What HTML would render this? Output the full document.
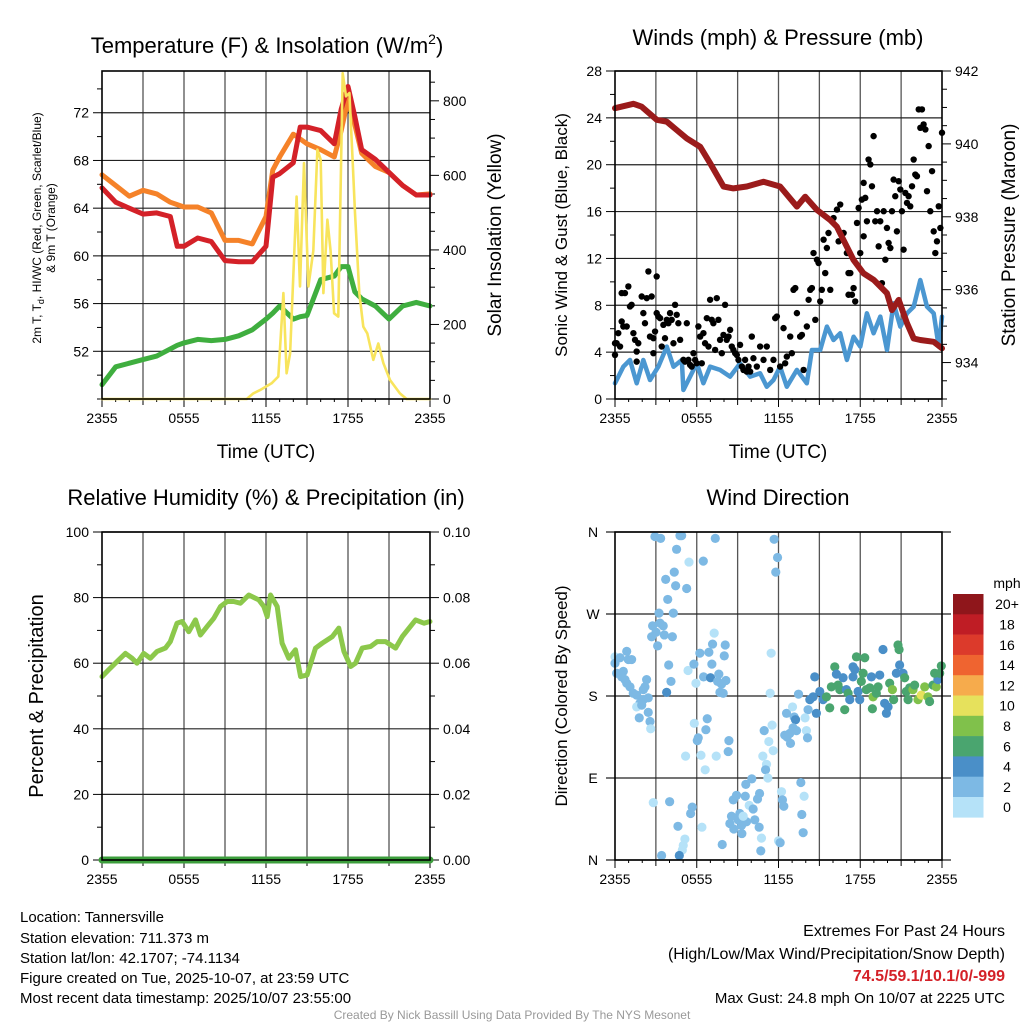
<!DOCTYPE html>
<html><head><meta charset="utf-8">
<style>
html,body{margin:0;padding:0;background:#fff;}
svg{display:block;font-family:"Liberation Sans",Arial,sans-serif;}
</style></head>
<body>
<svg id="fig" width="1024" height="1024" viewBox="0 0 1024 1024" xmlns="http://www.w3.org/2000/svg">
<rect width="1024" height="1024" fill="#fff"/>
<text x="267" y="53" font-size="22" text-anchor="middle">Temperature (F) &amp; Insolation (W/m<tspan dy="-9" font-size="14">2</tspan><tspan dy="9">)</tspan></text>
<text x="778" y="45" font-size="22" text-anchor="middle">Winds (mph) &amp; Pressure (mb)</text>
<text x="266" y="505" font-size="22" text-anchor="middle">Relative Humidity (%) &amp; Precipitation (in)</text>
<text x="778" y="505" font-size="22" text-anchor="middle">Wind Direction</text>

<text transform="translate(41,228) rotate(-90)" font-size="12" text-anchor="middle">2m T, T<tspan dy="3" font-size="9">d</tspan><tspan dy="-3">, HI/WC (Red, Green, Scarlet/Blue)</tspan></text>
<text transform="translate(55,228) rotate(-90)" font-size="12" text-anchor="middle">&amp; 9m T (Orange)</text>
<text transform="translate(501,235) rotate(-90)" font-size="19" text-anchor="middle">Solar Insolation (Yellow)</text>
<text x="266" y="458" font-size="19" text-anchor="middle">Time (UTC)</text>
<text transform="translate(567,235) rotate(-90)" font-size="17" text-anchor="middle">Sonic Wind &amp; Gust (Blue, Black)</text>
<text transform="translate(1015,235) rotate(-90)" font-size="19" text-anchor="middle">Station Pressure (Maroon)</text>
<text x="778" y="458" font-size="19" text-anchor="middle">Time (UTC)</text>
<text transform="translate(43,696) rotate(-90)" font-size="20" text-anchor="middle">Percent &amp; Precipitation</text>
<text transform="translate(567,696) rotate(-90)" font-size="17" text-anchor="middle">Direction (Colored By Speed)</text>

<g font-size="15">
<text x="20" y="922">Location: Tannersville</text>
<text x="20" y="943">Station elevation: 711.373 m</text>
<text x="20" y="963">Station lat/lon: 42.1707; -74.1134</text>
<text x="20" y="983">Figure created on Tue, 2025-10-07, at 23:59 UTC</text>
<text x="20" y="1003">Most recent data timestamp: 2025/10/07 23:55:00</text>
</g>
<g font-size="16" text-anchor="end">
<text x="1005" y="936">Extremes For Past 24 Hours</text>
<text x="1005" y="959">(High/Low/Max Wind/Precipitation/Snow Depth)</text>
<text x="1005" y="981" fill="#d42128" font-weight="bold">74.5/59.1/10.1/0/-999</text>
<text x="1005" y="1003" font-size="15">Max Gust: 24.8 mph On 10/07 at 2225 UTC</text>
</g>
<text x="512" y="1019" font-size="12" fill="#999" text-anchor="middle">Created By Nick Bassill Using Data Provided By The NYS Mesonet</text>
</svg>
<script>
// ---------- data ----------
const timeTicks = ["2355","0555","1155","1755","2355"];
const tempHours = [0,1,2,3,4,5,5.5,6,7,8,9,10,11,12,12.5,13,14,14.5,15,16,17,17.5,18,18.5,19,20,21,22,23,24];
const tempRed   = [65.7,64.5,64.0,63.5,63.6,63.3,60.8,60.8,61.5,61.2,59.6,59.5,59.5,60.8,66.6,66.9,67.8,70.8,70.8,70.5,69.4,72.3,74.2,71.7,68.9,68.1,67.0,65.9,65.1,65.1];
const tempOrange= [66.8,65.9,65.0,65.5,65.2,64.5,64.3,64.1,64.1,63.6,61.3,61.3,61.0,63.3,67.2,68.3,70.2,69.8,69.4,68.9,68.3,70.5,73.1,71.0,68.6,67.5,67.0,65.9,65.1,65.2];
const tempGreen = [49.2,50.7,51.0,51.3,51.6,52.2,52.5,52.7,53.0,52.9,53.0,53.3,53.8,54.7,55.2,55.8,54.7,54.9,55.0,58.0,58.3,59.1,59.1,57.0,56.4,55.8,54.7,55.8,56.1,55.8];
const solarHours = [0,10.59,11.07,11.56,12.41,12.9,13.27,13.51,13.76,14.24,14.49,14.78,15.1,15.46,15.76,16.0,16.2,16.49,16.73,16.98,17.29,17.61,17.85,18.1,18.34,18.51,18.83,19.12,19.41,19.85,20.22,20.59,21.07,21.8,22.29,24];
const solarVals  = [0,0,15,24,42,60,284,69,122,543,302,633,302,397,669,642,284,481,397,230,221,874,812,821,642,499,284,194,176,105,149,96,51,15,0,0];
const windHours = [0,0.61,1.1,1.59,2.08,2.57,3.18,3.8,4.29,4.9,5.02,5.51,6.0,6.49,6.98,7.71,8.45,9.18,9.92,10.65,11.14,11.63,12.12,12.61,13.35,14.08,14.45,15.06,15.55,16.04,16.53,17.02,17.51,18.0,18.49,18.98,19.47,19.96,20.45,20.94,21.43,21.92,22.41,22.9,23.39,23.76,24];
const windSpeed = [1.34,2.76,3.33,1.34,3.33,1.62,2.76,4.47,2.76,3.33,0.77,1.91,3.05,1.34,2.76,2.48,1.91,3.05,1.91,2.19,1.05,1.62,2.76,1.05,2.48,1.34,4.18,4.18,6.18,5.04,5.61,3.33,5.32,4.47,7.32,5.61,7.03,4.18,8.17,6.18,7.32,7.88,10.16,7.88,7.32,4.47,7.03];
const gustHours = [0,0,0.12,0.24,0.37,0.49,0.49,0.61,0.73,0.86,0.98,1.10,1.22,1.35,1.47,1.59,1.59,1.71,1.96,2.08,2.20,2.33,2.45,2.57,2.69,2.82,2.82,2.94,3.06,3.06,3.18,3.31,3.43,3.55,3.67,3.80,3.92,4.04,4.16,4.29,4.41,4.53,4.65,4.78,5.02,5.14,5.27,5.39,5.51,5.63,5.76,5.88,6.0,6.12,6.25,6.37,6.49,6.61,6.74,6.86,6.98,7.10,7.22,7.35,7.47,7.59,7.71,7.84,7.96,8.08,8.20,8.33,8.45,8.57,8.69,8.82,8.94,9.06,9.18,9.31,9.43,9.55,9.67,9.80,9.92,10.04,10.16,10.41,10.65,10.90,11.14,11.39,11.63,11.76,11.88,12.12,12.37,12.49,12.61,12.86,12.98,13.10,13.23,13.35,13.59,13.72,13.84,14.08,14.21,14.33,14.45,14.57,14.70,14.82,14.94,15.06,15.18,15.31,15.43,15.55,15.67,15.80,16.04,16.29,16.41,16.53,16.78,17.02,17.14,17.14,17.27,17.39,17.51,17.63,17.76,17.88,18.0,18.12,18.25,18.25,18.37,18.49,18.61,18.74,18.86,18.98,19.10,19.23,19.35,19.47,19.59,19.72,19.84,19.96,20.08,20.21,20.33,20.45,20.57,20.69,20.82,20.94,21.06,21.18,21.31,21.43,21.55,21.67,21.80,21.92,22.04,22.16,22.29,22.41,22.53,22.65,22.78,22.90,23.02,23.14,23.27,23.39,23.51,23.63,23.76,23.88,24.0];
const gustMph = [4.76,3.76,4.76,5.62,4.48,6.62,9.04,6.19,9.04,6.19,9.61,7.9,8.04,5.62,5.05,4.05,3.19,4.76,8.75,7.33,6.47,8.61,10.89,5.33,8.75,5.19,3.91,5.76,7.33,10.46,7.04,6.9,4.48,6.33,5.19,6.76,6.47,7.33,6.76,4.76,8.04,7.19,6.47,5.05,3.34,3.19,6.47,3.34,2.91,2.77,3.91,3.34,3.05,6.19,5.33,3.05,5.62,4.76,6.9,4.48,8.47,6.76,6.47,4.19,8.61,6.76,5.05,3.91,5.47,8.04,5.05,5.33,5.9,4.48,4.19,3.91,3.76,3.34,4.62,2.77,2.48,3.34,2.34,2.77,2.34,5.33,3.48,2.77,4.48,3.34,4.48,2.48,3.34,6.9,7.04,2.77,6.05,3.05,3.62,5.33,3.91,9.32,9.47,7.33,5.33,5.47,2.48,6.19,8.47,9.32,9.47,12.46,6.76,11.89,11.61,8.33,9.32,13.6,10.75,12.89,14.17,9.32,15.45,16.17,13.46,16.6,14.17,12.46,10.75,8.9,10.75,8.9,9.47,8.33,15.03,16.31,12.46,17.02,18.45,13.89,17.17,15.17,20.44,20.02,18.16,22.44,15.17,16.03,13.03,15.17,9.89,16.03,11.89,14.6,13.32,12.89,16.03,18.73,17.31,14.31,18.59,17.88,16.03,12.75,17.59,16.74,17.31,16.45,18.16,20.44,19.16,19.02,24.72,23.15,24.72,23.44,23.01,17.74,21.59,16.03,19.45,14.31,12.46,13.46,16.45,14.6,22.73];
const pressHours = [0,1.35,1.96,3.06,3.8,4.53,5.27,6.25,6.98,7.96,8.69,9.67,10.9,12.12,13.35,13.96,14.82,15.8,16.28,16.77,17.51,18.24,18.98,19.96,20.33,20.82,21.43,21.92,22.41,23.39,24];
const pressMb = [940.98,941.10,941.02,940.66,940.61,940.38,940.15,939.92,939.47,938.83,938.78,938.83,938.96,938.83,938.28,938.55,938.19,937.91,937.73,937.36,936.81,936.45,936.27,935.90,935.44,935.72,935.08,934.66,934.62,934.57,934.39];
const rhHours = [0,0.49,1.22,1.71,2.2,2.56,3.05,3.54,4.03,4.64,5.0,5.49,5.86,6.35,6.84,7.2,7.69,8.18,8.67,9.16,9.64,10.13,10.74,11.47,11.84,12.09,12.33,12.82,13.18,13.67,14.16,14.53,15.01,15.62,16.11,16.85,17.33,17.7,18.19,18.55,19.04,19.65,20.14,20.75,21.48,21.97,22.95,23.56,24];
const rhVals = [55.9,58.0,61.0,63.0,61.5,60,63,61.5,63.6,64.6,66.6,72.2,72.7,69.6,73.2,68.6,71.2,73.7,77.3,78.8,78.8,78.3,80.8,79.3,77.3,74.2,80.8,77.3,66.1,61.5,64.1,55.9,56.4,64.6,66.1,68.1,70.7,63.6,59.0,60,64.6,65.1,66.6,66.6,64.6,68.1,73.2,72.2,72.7];
const precipHours = [0,24];
const precipVals = [0,0];
const dirHours = [0,0,0.12,0.37,0.61,0.86,0.98,0.73,1.22,0.49,0.86,1.10,1.34,1.59,1.83,2.08,2.20,2.32,2.44,1.59,1.96,1.78,2.44,2.57,2.62,2.08,
2.93,3.35,4.77,4.89,4.52,5.43,4.35,3.72,4.45,5.26,3.87,3.23,4.28,2.76,3.30,3.54,3.01,3.62,4.21,2.69,3.13,3.94,3.79,4.11,5.36,
7.36,6.48,7.28,7.16,8.09,6.89,6.23,8.02,5.79,7.11,6.50,7.01,7.62,5.94,7.53,8.14,7.82,7.70,7.94,
5.82,6.77,6.67,6.04,6.11,8.36,8.31,6.31,5.18,7.43,6.62,
2.81,4.01,5.67,5.55,4.62,6.38,5.13,5.01,4.94,4.72,3.42,7.87,
8.68,8.92,9.56,9.60,10.04,10.61,10.46,9.85,10.14,10.26,9.65,9.29,9.04,8.55,8.43,8.72,9.31,10.58,10.75,10.70,9.16,9.41,
11.68,11.93,11.80,11.46,11.39,11.53,10.95,11.29,11.61,10.85,11.12,11.05,11.22,12.0,12.12,12.22,12.29,12.39,13.64,13.88,13.71,13.81,
12.59,13.03,13.15,13.25,13.47,13.07,13.32,12.83,12.46,12.63,12.88,14.17,13.95,14.05,14.13,
14.30,14.54,14.66,14.78,15.03,15.27,15.52,15.76,15.88,16.13,16.25,16.37,16.50,16.74,16.98,17.11,17.23,16.86,17.47,17.60,17.47,17.84,17.96,17.72,18.33,18.21,18.08,18.45,18.70,18.82,18.94,18.89,19.18,19.31,19.43,19.67,19.79,19.92,20.04,20.16,20.36,20.45,20.65,20.77,20.85,20.89,21.14,21.26,21.38,21.51,21.63,21.87,21.99,22.24,22.48,22.73,22.97,23.09,23.34,23.58,23.70,23.83,23.95,23.46];
const dirDeg = [223,216,205,222,207,229,220,198,220,201,194,190,183,181,172,176,190,198,178,168,170,156,162,152,144,187,
355,353,356,356,341,327,316,308,301,298,286,271,271,257,260,257,250,247,245,245,235,214,184,196,208,
353,328,249,237,236,228,227,224,215,215,201,200,204,194,196,197,193,184,183,
150,155,143,131,134,131,119,115,114,114,99,
63,64,58,51,37,36,23,16,11,5,5,17,
66,71,70,83,89,73,67,60,56,44,42,38,44,48,40,34,29,36,24,10,51,48,
352,332,316,227,183,148,142,130,120,114,105,99,90,21,19,75,66,59,85,70,50,30,
161,168,157,154,182,145,142,139,137,135,128,165,156,142,134,
176,179,201,161,185,176,179,167,190,212,204,192,187,200,187,183,176,165,212,209,201,185,176,223,222,205,196,187,189,201,179,166,183,190,203,231,172,161,168,194,187,176,205,236,231,214,205,200,185,176,189,187,192,176,181,190,179,174,192,190,198,205,213,205];
const dirSpeed = [1,3,3,3,3,3,3,3,3,3,3,3,3,3,3,3,3,3,3,1,3,3,3,3,1,3,
3,3,3,3,3,1,3,3,3,3,3,3,3,3,3,3,3,3,3,3,3,3,5,3,1,
3,3,1,3,3,3,3,3,3,3,3,5,3,1,3,3,3,3,3,
1,3,3,3,3,3,3,1,1,1,1,
1,3,3,3,3,1,1,1,1,5,3,3,
3,3,3,3,3,3,3,1,3,3,3,3,3,3,3,3,3,3,1,3,3,1,
3,3,3,1,1,1,3,1,1,1,1,3,1,1,3,1,3,3,3,1,3,3,
3,1,3,5,3,3,3,3,3,3,3,3,1,1,3,
5,5,5,5,5,5,7,7,7,7,5,7,7,5,5,7,5,7,5,5,5,5,5,7,7,7,7,7,7,5,9,7,7,7,5,5,5,5,5,7,9,7,5,7,7,5,5,7,7,7,7,9,7,9,11,9,9,7,7,9,5,7,7,7];
const speedBins = ["0","2","4","6","8","10","12","14","16","18","20+"];
const speedColors = ["#b5e2f8","#7db9e4","#4a8fc8","#4aa56f","#80c14b","#e6e15c","#f6ab4c","#ef6430","#dc3a2b","#bf1d25","#8f161b"];

// ---------- helpers ----------
const NS = "http://www.w3.org/2000/svg";
const svg = document.getElementById("fig");
function mk(tag, attrs, parent){ const e=document.createElementNS(NS,tag); for(const k in attrs) e.setAttribute(k,attrs[k]); (parent||svg).appendChild(e); return e; }
function scale(d0,d1,r0,r1){ return v => r0 + (v-d0)/(d1-d0)*(r1-r0); }

function panel(x0,x1,y0,y1,name){
  const g = mk("g",{});
  
  
  const xs = scale(0,24,x0,x1);
  // vertical gridlines every 3 h
  for(let h=3; h<24; h+=3){
    const l = mk("line",{x1:xs(h),x2:xs(h),y1:y0,y2:y1,stroke:"#555","stroke-width":1.3},g);
    
    
  }
  // x ticks + labels
  for(let h=0; h<=24; h+=1){
    const major = h%6===0, mid = h%3===0;
    mk("line",{x1:xs(h),x2:xs(h),y1:y1,y2:y1+(major?8:mid?6:3),stroke:"#000","stroke-width":1},g);
  }
  timeTicks.forEach((t,i)=>{
    const tx = mk("text",{x:xs(i*6),y:y1+24,"font-size":14,"text-anchor":"middle"},g);
    tx.textContent = t;
    
    
  });
  return {g,xs};
}
function frame(x0,x1,y0,y1,g){
  const r = mk("rect",{x:x0,y:y0,width:x1-x0,height:y1-y0,fill:"none",stroke:"#000","stroke-width":1.6},g);
  
  
}
function yAxis(g,ys,x0,x1,majors,minorStep,lo,hi,fmt,side,grid){
  for(let v=lo; v<=hi+1e-9; v+=minorStep){
    const y=ys(v); const isMaj = majors.some(m=>Math.abs(m-v)<1e-6);
    if(side==="left") mk("line",{x1:x0,x2:x0-(isMaj?9:5),y1:y,y2:y,stroke:"#000","stroke-width":1},g);
    else mk("line",{x1:x1,x2:x1+(isMaj?9:5),y1:y,y2:y,stroke:"#000","stroke-width":1},g);
  }
  majors.forEach(m=>{
    const y=ys(m);
    if(grid){ mk("line",{x1:x0,x2:x1,y1:y,y2:y,stroke:"#222","stroke-width":1.2},g); }
    const t = mk("text",{x:side==="left"?x0-13:x1+13,y:y+5,"font-size":14,"text-anchor":side==="left"?"end":"start"},g);
    t.textContent = fmt(m);
    
    
  });
}
function line(g,hours,vals,xs,ys,color,w,name){
  const d = hours.map((h,i)=>(i?"L":"M")+xs(h).toFixed(1)+","+ys(vals[i]).toFixed(1)).join("");
  const p = mk("path",{d:d,fill:"none",stroke:color,"stroke-width":w,"stroke-linejoin":"round","stroke-linecap":"round"},g);
  
  
  return p;
}

// ---------- panel 1 ----------
(function(){
  const x0=102,x1=430,y0=71,y1=399;
  const {g,xs} = panel(x0,x1,y0,y1,"temperature-panel");
  const ys = scale(48,75.5,y1,y0);
  const ss = scale(0,880,y1,y0);
  yAxis(g,ys,x0,x1,[52,56,60,64,68,72],2,48,74,v=>v,"left",true);
  yAxis(g,ss,x0,x1,[0,200,400,600,800],50,0,850,v=>v,"right",false);
  line(g,tempHours,tempOrange,xs,ys,"#f58229",5,"orange-9m-temp-line");
  line(g,tempHours,tempRed,xs,ys,"#d42128",5,"red-2m-temp-line");
  line(g,tempHours,tempGreen,xs,ys,"#3fae3f",5,"green-dewpoint-line");
  line(g,solarHours,solarVals,xs,ss,"#f8e45c",2.6,"yellow-solar-line");
  frame(x0,x1,y0,y1,g);
})();

// ---------- panel 2 ----------
(function(){
  const x0=615,x1=942,y0=71,y1=399;
  const {g,xs} = panel(x0,x1,y0,y1,"wind-pressure-panel");
  const ws = scale(0,28,y1,y0);
  const ps = scale(933,942,y1,y0);
  yAxis(g,ws,x0,x1,[0,4,8,12,16,20,24,28],2,0,28,v=>v,"left",true);
  yAxis(g,ps,x0,x1,[934,936,938,940,942],0.5,933,942,v=>v,"right",false);
  line(g,windHours,windSpeed,xs,ws,"#4b97d1",4.5,"blue-wind-line");
  gustHours.forEach((h,i)=>{
    const c = mk("circle",{cx:xs(h),cy:ws(gustMph[i]),r:3.2,fill:"#000"},g);
    
    
  });
  line(g,pressHours,pressMb,xs,ps,"#9b1b1b",6,"maroon-pressure-line");
  frame(x0,x1,y0,y1,g);
})();

// ---------- panel 3 ----------
(function(){
  const x0=102,x1=430,y0=532,y1=860;
  const {g,xs} = panel(x0,x1,y0,y1,"humidity-panel");
  const ys = scale(0,100,y1,y0);
  const ps = scale(0,0.1,y1,y0);
  yAxis(g,ys,x0,x1,[0,20,40,60,80,100],10,0,100,v=>v,"left",true);
  yAxis(g,ps,x0,x1,[0,0.02,0.04,0.06,0.08,0.1],0.01,0,0.1,v=>v.toFixed(2),"right",false);
  line(g,rhHours,rhVals,xs,ys,"#8cc84b",5,"rh-line");
  line(g,precipHours,precipVals,xs,ps,"#3c9e3c",7,"precip-line");
  frame(x0,x1,y0,y1,g);
})();

// ---------- panel 4 ----------
(function(){
  const x0=615,x1=942,y0=532,y1=860;
  const {g,xs} = panel(x0,x1,y0,y1,"wind-direction-panel");
  const ds = scale(0,360,y1,y0);
  const labs = ["N","E","S","W","N"];
  [0,90,180,270,360].forEach((v,i)=>{
    const y=ds(v);
    mk("line",{x1:x0-9,x2:x1+9,y1:y,y2:y,stroke:"#222","stroke-width":1.2},g);
    const t = mk("text",{x:x0-22,y:y+5,"font-size":14,"text-anchor":"middle"},g);
    t.textContent = labs[i];
    
    
  });
  dirHours.forEach((h,i)=>{
    const bin = Math.min(10,Math.floor(dirSpeed[i]/2));
    const c = mk("circle",{cx:xs(h),cy:ds(dirDeg[i]),r:4.6,fill:speedColors[bin]},g);
    
    
  });
  frame(x0,x1,y0,y1,g);
  // colorbar
  const cb = mk("g",{});
  
  
  const t0 = mk("text",{x:1007,y:588,"font-size":14,"text-anchor":"middle"},cb);
  t0.textContent = "mph";
  const bh = 20.3;
  for(let i=0;i<11;i++){
    const idx = 10-i;
    const r = mk("rect",{x:953,y:594+i*bh,width:30.5,height:bh+0.3,fill:speedColors[idx]},cb);
    
    
    const t = mk("text",{x:1007,y:594+i*bh+bh/2+5,"font-size":14,"text-anchor":"middle"},cb);
    t.textContent = speedBins[idx];
    
    
  }
})();
</script>
</body></html>
